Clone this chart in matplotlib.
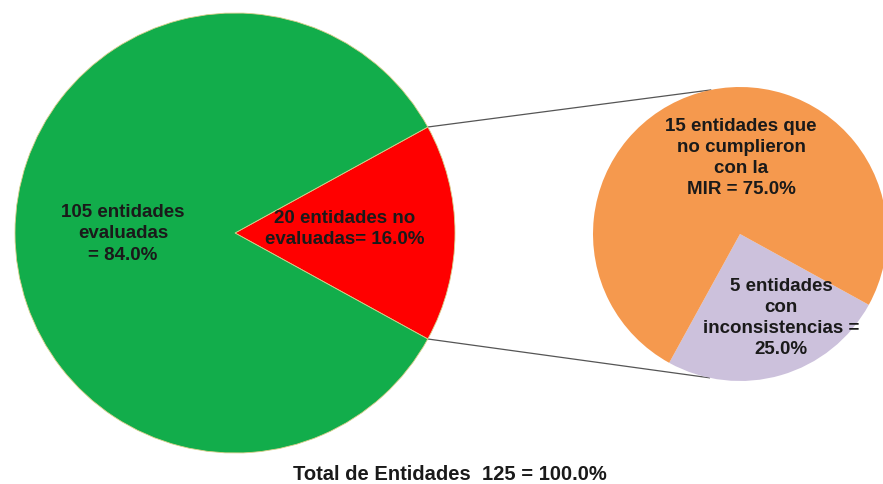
import numpy as np
import matplotlib
matplotlib.use("Agg")
import matplotlib.pyplot as plt

# Data
main_labels = ["entidades no evaluadas", "entidades evaluadas"]
main_counts = [20, 105]
main_pct = [16.0, 84.0]
sub_counts = [5, 15]
sub_pct = [25.0, 75.0]
total_count = 125

plt.rcParams['font.family'] = ['Liberation Sans', 'DejaVu Sans']

W, H = 883, 485
fig = plt.figure(figsize=(W / 100, H / 100), dpi=100)
ax = fig.add_axes([0, 0, 1, 1])

big_c = (235, 485 - 234)
big_r = 220
small_c = (740, 485 - 235)
small_r = 147

red_span = 360 * main_pct[0] / 100.0
start_big = -red_span / 2
ax.pie(main_counts, colors=['#FF0000', '#12AD4B'], startangle=start_big,
       center=big_c, radius=big_r, counterclock=True,
       wedgeprops=dict(edgecolor='#d8cf8a', linewidth=0.6))

lav_span = 360 * sub_pct[0] / 100.0
start_small = start_big - lav_span
ax.pie(sub_counts, colors=['#CCC1DC', '#F5994E'], startangle=start_small,
       center=small_c, radius=small_r, counterclock=True,
       wedgeprops=dict(edgecolor='none'))

# connector lines
for a_big, a_small in [(red_span / 2, 101.5), (-red_span / 2, -102.0)]:
    x0 = big_c[0] + big_r * np.cos(np.radians(a_big))
    y0 = big_c[1] + big_r * np.sin(np.radians(a_big))
    x1 = small_c[0] + small_r * np.cos(np.radians(a_small))
    y1 = small_c[1] + small_r * np.sin(np.radians(a_small))
    ax.plot([x0, x1], [y0, y1], color='#555555', lw=0.9, zorder=0)

tk = dict(ha='center', va='center', fontsize=13.5, fontweight='bold',
          color='#1a1a1a', linespacing=1.32)
ax.text(123, 485 - 234, f"{main_counts[1]} entidades\nevaluadas\n= {main_pct[1]:.1f}%", **tk)
ax.text(345, 485 - 229, f"{main_counts[0]} entidades no\nevaluadas= {main_pct[0]:.1f}%", **tk)
ax.text(741, 485 - 158, f"{sub_counts[1]} entidades que\nno cumplieron\ncon la\nMIR = {sub_pct[1]:.1f}%", **tk)
ax.text(781, 485 - 318, f"{sub_counts[0]} entidades\ncon\ninconsistencias =\n{sub_pct[0]:.1f}%", **tk)
ax.text(450, 485 - 475, f"Total de Entidades  {total_count} = 100.0%",
        ha='center', va='center', fontsize=14.5, fontweight='bold', color='#1a1a1a')

ax.set_xlim(0, W)
ax.set_ylim(0, H)
ax.set_aspect('equal')
ax.axis('off')

fig.savefig('out.png', dpi=100)
